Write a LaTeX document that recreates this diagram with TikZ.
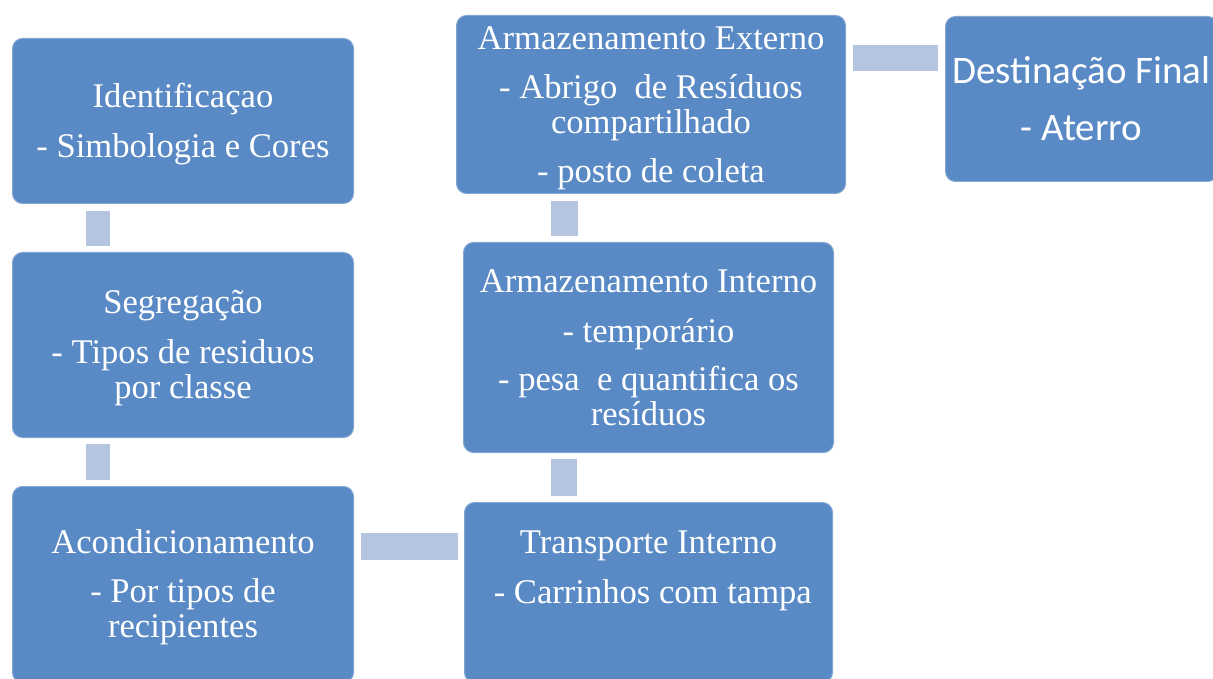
\documentclass[tikz,border=0pt]{standalone}
\usepackage{fontspec}
\setmainfont{Liberation Serif}
\newfontfamily\calib{Carlito}
\definecolor{boxblue}{RGB}{89,138,197}
\definecolor{barblue}{RGB}{181,197,223}
\newcommand\firststrut{\rule{0pt}{30pt}}
\newcommand\laststrut[1][7.5pt]{\rule[-#1]{0pt}{#1}}
\begin{document}
\begin{tikzpicture}[x=1pt,y=1pt,
  box/.style={draw=boxblue!75!white, line width=1pt, fill=boxblue, rounded corners=10pt,
    inner sep=0pt, text=white, align=center, anchor=north west,
    font=\fontsize{34.6}{35}\selectfont},
  bar/.style={draw=barblue, line cap=butt}]
\clip (0,0) rectangle (1213,-679);
\fill[white] (0,0) rectangle (1213,-679);

\node[box, minimum width=341pt, minimum height=165pt] (ident) at (12,-38)
  {\firststrut Identificaçao\\[15pt]- Simbologia e Cores\laststrut};
\node[box, minimum width=341pt, minimum height=185pt] (segr) at (12,-252)
  {\firststrut Segregação\\[15pt]- Tipos de residuos\\por classe\laststrut};
\node[box, minimum width=341pt, minimum height=196pt] (acond) at (12,-486)
  {\firststrut Acondicionamento\\[14pt]- Por tipos de\\recipientes\laststrut};
\node[box, minimum width=368pt, minimum height=180pt] (transp) at (464,-502)
  {\firststrut Transporte Interno\\[15pt]\ - Carrinhos com tampa\\[15pt]\laststrut};
\node[box, minimum width=370pt, minimum height=210pt] (inter) at (463,-242)
  {\firststrut Armazenamento Interno\\[15pt]- temporário\\[13pt]- pesa\ \ e quantifica os\\resíduos\laststrut};
\node[box, minimum width=389pt, minimum height=178pt] (exter) at (456,-15)
  {\firststrut Armazenamento Externo\\[14pt]- Abrigo\ \ de Resíduos\\compartilhado\\[14pt]- posto de coleta\laststrut};
\node[box, minimum width=272pt, minimum height=165pt, font=\calib\fontsize{39}{57}\selectfont] (dest) at (945,-16)
  {\firststrut Destinação Final\\- Aterro\laststrut[4pt]};

\draw[bar, line width=23.5pt, shorten <=7pt, shorten >=6pt]
  ([xshift=-85pt]ident.south) -- ([xshift=-85pt]segr.north);
\draw[bar, line width=23.5pt, shorten <=6pt, shorten >=6pt]
  ([xshift=-85pt]segr.south) -- ([xshift=-85pt]acond.north);
\draw[bar, line width=27pt, shorten <=7pt, shorten >=6pt]
  ([yshift=-60.5pt]acond.north east) -- ([yshift=-60.5pt]acond.north east -| transp.west);
\draw[bar, line width=26pt, shorten <=6pt, shorten >=6pt]
  ([xshift=-85pt]transp.north) -- ([xshift=-85pt]transp.north |- inter.south);
\draw[bar, line width=27pt, shorten <=6pt, shorten >=7pt]
  ([xshift=-87pt]exter.south |- inter.north) -- ([xshift=-87pt]exter.south);
\draw[bar, line width=26pt, shorten <=7pt, shorten >=7pt]
  ([yshift=-43pt]exter.north east) -- ([yshift=-43pt]exter.north east -| dest.west);
\end{tikzpicture}
\end{document}
